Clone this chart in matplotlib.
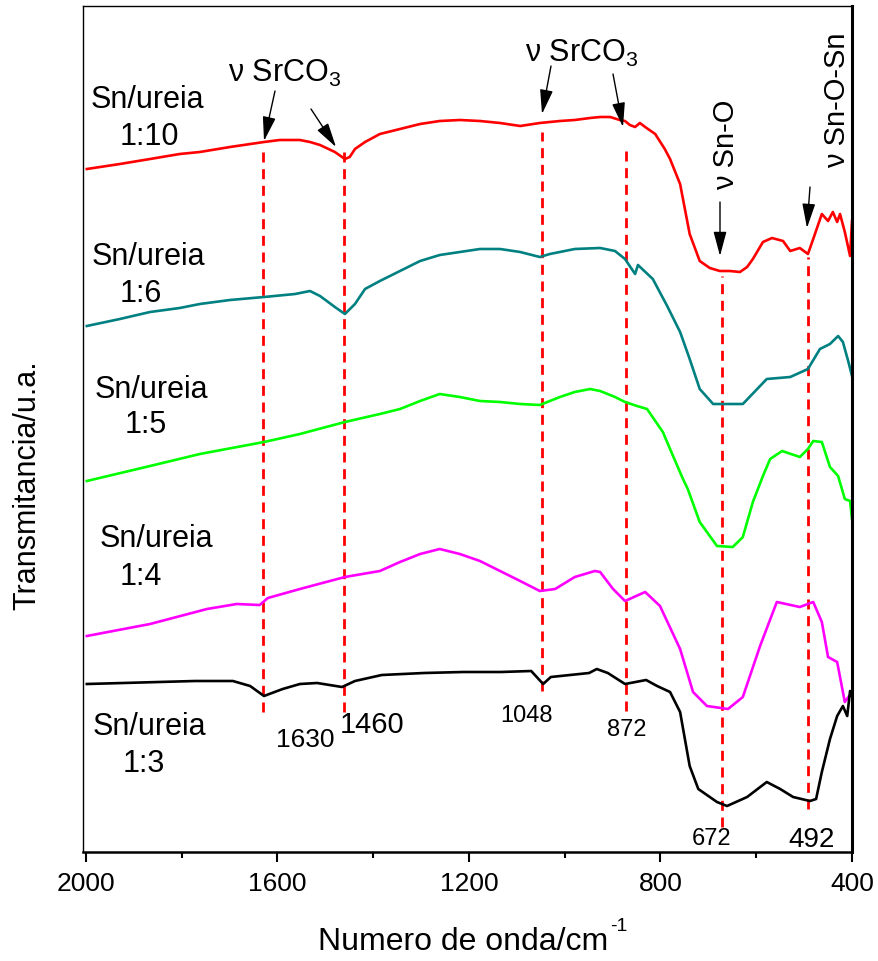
import matplotlib
matplotlib.use('Agg')
import matplotlib.pyplot as plt

plt.rcParams['font.family'] = ['Liberation Sans', 'DejaVu Sans']
plt.rcParams['mathtext.fontset'] = 'custom'
plt.rcParams['mathtext.rm'] = 'Liberation Sans'
plt.rcParams['mathtext.it'] = 'Liberation Sans:italic'
plt.rcParams['mathtext.default'] = 'regular'

# ---------------- data (wavenumber / cm-1, transmittance a.u. with offsets) -------------
wn_110 = [1998, 1929, 1866, 1804, 1762, 1699, 1628, 1595, 1553, 1532,
          1511, 1480, 1459, 1449, 1438, 1417, 1386, 1344, 1302, 1261,
          1219, 1177, 1135, 1093, 1052, 1010, 979, 947, 926, 905,
          885, 874, 864, 853, 843, 832, 811, 791, 780, 759,
          739, 718, 697, 676, 655, 634, 619, 607, 586, 567,
          544, 529, 509, 492, 481, 463, 450, 440, 431, 425,
          415, 404, 400]
t_110 = [683, 688, 693, 698, 700, 705, 710, 712, 712, 710,
         707, 700, 693, 695, 703, 710, 718, 723, 728, 731,
         732, 731, 729, 726, 729, 731, 732, 734, 735, 735,
         732, 731, 727, 725, 729, 725, 718, 703, 693, 668,
         618, 591, 584, 581, 581, 580, 585, 593, 610, 614,
         611, 601, 604, 598, 613, 638, 631, 640, 630, 638,
         620, 596, 631]

wn_16 = [1998, 1929, 1866, 1804, 1762, 1699, 1628, 1563, 1532, 1511,
         1480, 1459, 1438, 1417, 1386, 1344, 1302, 1261, 1219, 1177,
         1135, 1093, 1052, 1031, 979, 926, 895, 874, 853, 847,
         816, 786, 759, 739, 718, 690, 628, 598, 578, 529,
         492, 467, 446, 429, 419, 408, 400]
t_16 = [526, 533, 540, 544, 548, 552, 555, 558, 561, 556,
        545, 538, 548, 563, 571, 581, 591, 597, 600, 603,
        603, 600, 595, 598, 603, 604, 601, 593, 578, 587,
        573, 546, 520, 493, 463, 448, 448, 463, 473, 475,
        483, 503, 508, 516, 510, 491, 476]

wn_15 = [1998, 1866, 1762, 1628, 1553, 1459, 1386, 1344, 1302, 1261,
         1219, 1177, 1135, 1093, 1052, 1010, 979, 947, 926, 895,
         874, 849, 828, 795, 780, 753, 743, 718, 682, 649,
         628, 607, 586, 571, 546, 509, 492, 481, 463, 446,
         429, 415, 404, 400]
t_15 = [371, 386, 398, 410, 418, 430, 438, 443, 451, 458,
        455, 451, 450, 448, 447, 455, 460, 463, 461, 455,
        450, 446, 443, 420, 403, 373, 363, 330, 306, 305,
        315, 350, 376, 393, 401, 395, 403, 411, 410, 385,
        376, 353, 351, 333]

wn_14 = [1998, 1866, 1747, 1685, 1637, 1620, 1553, 1459, 1386, 1344,
         1302, 1261, 1219, 1177, 1135, 1093, 1052, 1020, 979, 937,
         926, 899, 874, 832, 801, 759, 732, 703, 659, 628,
         592, 557, 509, 481, 463, 450, 431, 415, 400]
t_14 = [216, 228, 243, 248, 247, 254, 263, 275, 281, 290,
        298, 303, 298, 291, 281, 271, 261, 263, 275, 281,
        280, 263, 251, 260, 246, 203, 160, 146, 143, 155,
        206, 250, 245, 250, 230, 195, 190, 150, 160]

wn_13 = [1998, 1772, 1693, 1657, 1628, 1589, 1553, 1517, 1465, 1438,
         1382, 1294, 1212, 1133, 1070, 1045, 1029, 949, 933, 910,
         874, 830, 807, 780, 759, 739, 721, 682, 661, 619,
         578, 550, 523, 488, 475, 463, 446, 431, 419, 410,
         404, 400]
t_13 = [168, 171, 171, 166, 156, 163, 168, 169, 165, 171,
        177, 179, 180, 180, 181, 168, 175, 179, 183, 179,
        168, 172, 166, 160, 140, 86, 63, 50, 46, 55,
        70, 63, 55, 51, 53, 80, 113, 136, 146, 136,
        161, 156]

series_wn = [wn_110, wn_16, wn_15, wn_14, wn_13]
series_t = [t_110, t_16, t_15, t_14, t_13]
series_ratio = ['1:10', '1:6', '1:5', '1:4', '1:3']
series_colors = ['#ff0000', '#008080', '#00ff00', '#ff00ff', '#000000']

band_wn = [1630, 1460, 1048, 872, 672, 492]
band_top = [703, 703, 720, 703, 576, 595]
band_bottom = [140, 140, 161, 141, 25, 43]
band_labels = ['1630', '1460', '1048', '872', '672', '492']

xticks_major = [2000, 1600, 1200, 800, 400]
xticks_minor = [1800, 1400, 1000, 600]

# ---------------- figure --------------------------------------------------------------
W, H = 879, 962
fig = plt.figure(figsize=(W / 100, H / 100), dpi=100)
ax = fig.add_axes([83 / W, 1 - 853 / H, (852 - 83) / W, (853 - 7) / H])


def fp(x, y):
    return (x / W, 1 - y / H)


for wn, t, c in zip(series_wn, series_t, series_colors):
    ax.plot(wn, t, color=c, lw=1.9, solid_joinstyle='round')

for b, top, bot in zip(band_wn, band_top, band_bottom):
    ax.plot([b, b], [bot, top], color='#ff0000', lw=2.0, linestyle=(0, (3.6, 2.4)), zorder=1)

ax.set_xlim(2006, 400)
ax.set_ylim(0, 846)
ax.set_xticks(xticks_major)
ax.set_xticks(xticks_minor, minor=True)
ax.set_yticks([])
ax.tick_params(axis='x', which='major', direction='out', length=7.5, width=1.5,
               labelsize=19, pad=6)
ax.tick_params(axis='x', which='minor', direction='out', length=4.5, width=1.5)
for s in ['left', 'top']:
    ax.spines[s].set_linewidth(1.0)
ax.spines['bottom'].set_linewidth(1.8)
ax.spines['right'].set_linewidth(2.2)

# sample labels
label_pos = [((91, 108), (120, 145)), ((92, 265), (120, 302)), ((95, 398), (125, 433)),
             ((100, 547), (120, 585)), ((93, 735), (123, 772))]
for r, (p1, p2) in zip(series_ratio, label_pos):
    fig.text(*fp(*p1), 'Sn/ureia', fontsize=22, ha='left', va='baseline')
    fig.text(*fp(*p2), r, fontsize=22, ha='left', va='baseline')

# band numbers
num_pos = [(305, 747, 19), (372, 733, 21), (527, 722, 17), (627, 736, 17),
           (712, 845, 17), (812, 847, 20)]
for lab, (x, y, fs) in zip(band_labels, num_pos):
    fig.text(*fp(x, y), lab, fontsize=fs, ha='center', va='baseline')

# assignments
fig.text(*fp(228, 82), 'ν SrCO$_{3}$', fontsize=22, ha='left', va='baseline')
fig.text(*fp(525, 62), 'ν SrCO$_{3}$', fontsize=22, ha='left', va='baseline')
fig.text(*fp(726, 145), 'ν Sn-O', fontsize=21, rotation=90, ha='center', va='center')
fig.text(*fp(837, 100), 'ν Sn-O-Sn', fontsize=21, rotation=90, ha='center', va='center')

arrows = [((275, 92), (264, 142)), ((311, 110), (336, 148)), ((551, 67), (542, 115)),
          ((613, 75), (623, 128)), ((720, 203), (720, 257)), ((810, 188), (807, 229))]
for (x0, y0), (x1, y1) in arrows:
    ax.annotate('', xy=(x1, H - y1), xytext=(x0, H - y0), xycoords='figure pixels',
                textcoords='figure pixels',
                arrowprops=dict(arrowstyle='-|>,head_length=0.75,head_width=0.2',
                                mutation_scale=20, color='black', lw=1.0,
                                shrinkA=0, shrinkB=0))

# axis labels
xl = fig.text(*fp(463, 950), 'Numero de onda/cm', fontsize=23, ha='center', va='baseline')
fig.canvas.draw()
bb = xl.get_window_extent(fig.canvas.get_renderer())
fig.text((bb.x1 + 2) / W, 1 - 931 / H, '-1', fontsize=14, ha='left', va='baseline')
fig.text(*fp(27, 485), 'Transmitancia/u.a.', fontsize=22, rotation=90, ha='center', va='center')

fig.savefig('out.png', dpi=100)
